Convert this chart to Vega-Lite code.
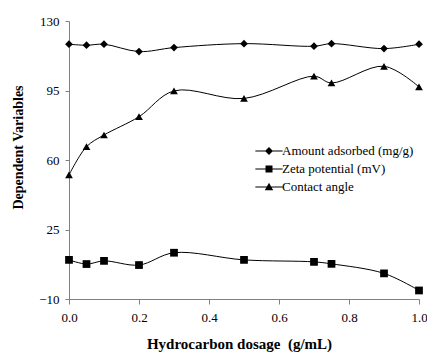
{
  "$schema": "https://vega.github.io/schema/vega-lite/v6.json",
  "width": 350,
  "height": 278,
  "autosize": {"type": "none"},
  "padding": {"left": 69, "top": 21, "right": 8, "bottom": 53},
  "background": "white",
  "config": {
    "view": {"stroke": null},
    "font": "Liberation Serif",
    "axis": {
      "domainColor": "#808080",
      "tickColor": "#808080",
      "labelColor": "black",
      "titleColor": "black",
      "labelFont": "Liberation Serif",
      "titleFont": "Liberation Serif",
      "labelFontSize": 13,
      "titleFontSize": 14,
      "titleFontWeight": "bold",
      "grid": false
    }
  },
  "data": {
    "values": [
      {"x": 0.0, "series": "Amount adsorbed (mg/g)", "v": 118.3},
      {"x": 0.05, "series": "Amount adsorbed (mg/g)", "v": 117.8},
      {"x": 0.1, "series": "Amount adsorbed (mg/g)", "v": 118.3},
      {"x": 0.2, "series": "Amount adsorbed (mg/g)", "v": 114.6},
      {"x": 0.3, "series": "Amount adsorbed (mg/g)", "v": 116.6},
      {"x": 0.5, "series": "Amount adsorbed (mg/g)", "v": 118.6},
      {"x": 0.7, "series": "Amount adsorbed (mg/g)", "v": 117.3},
      {"x": 0.75, "series": "Amount adsorbed (mg/g)", "v": 118.6},
      {"x": 0.9, "series": "Amount adsorbed (mg/g)", "v": 116.1},
      {"x": 1.0, "series": "Amount adsorbed (mg/g)", "v": 118.3},
      {"x": 0.0, "series": "Zeta potential (mV)", "v": 9.7},
      {"x": 0.05, "series": "Zeta potential (mV)", "v": 7.6},
      {"x": 0.1, "series": "Zeta potential (mV)", "v": 9.2},
      {"x": 0.2, "series": "Zeta potential (mV)", "v": 7.1},
      {"x": 0.3, "series": "Zeta potential (mV)", "v": 13.3},
      {"x": 0.5, "series": "Zeta potential (mV)", "v": 9.7},
      {"x": 0.7, "series": "Zeta potential (mV)", "v": 8.7},
      {"x": 0.75, "series": "Zeta potential (mV)", "v": 7.7},
      {"x": 0.9, "series": "Zeta potential (mV)", "v": 2.9},
      {"x": 1.0, "series": "Zeta potential (mV)", "v": -5.7},
      {"x": 0.0, "series": "Contact angle", "v": 52.5},
      {"x": 0.05, "series": "Contact angle", "v": 66.7},
      {"x": 0.1, "series": "Contact angle", "v": 72.6},
      {"x": 0.2, "series": "Contact angle", "v": 81.8},
      {"x": 0.3, "series": "Contact angle", "v": 94.8},
      {"x": 0.5, "series": "Contact angle", "v": 91.0},
      {"x": 0.7, "series": "Contact angle", "v": 102.2},
      {"x": 0.75, "series": "Contact angle", "v": 98.8},
      {"x": 0.9, "series": "Contact angle", "v": 107.2},
      {"x": 1.0, "series": "Contact angle", "v": 96.8}
    ]
  },
  "encoding": {
    "x": {
      "field": "x", "type": "quantitative",
      "scale": {"domain": [0, 1], "nice": false, "zero": false},
      "axis": {
        "title": "Hydrocarbon dosage\u00a0 (g/mL)",
        "titleFontSize": 15,
        "values": [0, 0.2, 0.4, 0.6, 0.8, 1.0],
        "format": ".1f",
        "tickSize": 5,
        "labelPadding": 7,
        "titleX": 170,
        "titleY": 44,
        "titleBaseline": "middle",
        "labelFlush": false
      }
    },
    "y": {
      "field": "v", "type": "quantitative",
      "scale": {"domain": [-10, 130], "nice": false, "zero": false},
      "axis": {
        "title": "Dependent Variables",
        "values": [-10, 25, 60, 95, 130],
        "tickSize": 4,
        "labelPadding": 6,
        "titleX": -51,
        "titleY": 126,
        "titleBaseline": "middle",
        "labelFlush": false
      }
    }
  },
  "layer": [
    {
      "mark": {"type": "line", "interpolate": "catmull-rom", "color": "black", "strokeWidth": 1},
      "encoding": {"detail": {"field": "series"}}
    },
    {
      "mark": {"type": "point", "filled": true, "opacity": 1, "color": "black", "size": 60},
      "encoding": {
        "shape": {
          "field": "series", "type": "nominal",
          "scale": {
            "domain": ["Amount adsorbed (mg/g)", "Zeta potential (mV)", "Contact angle"],
            "range": ["diamond", "square", "triangle-up"]
          },
          "legend": null
        }
      }
    },
    {
      "mark": {"type": "point", "filled": true, "opacity": 0, "color": "black", "size": 1},
      "encoding": {
        "shape": {
          "field": "series", "type": "nominal",
          "scale": {
            "domain": ["Amount adsorbed (mg/g)", "Zeta potential (mV)", "Contact angle"],
            "range": [
              "M-1.95,-0.07H1.95V0.07H-1.95ZM0,-0.57L0.57,0L0,0.57L-0.57,0Z",
              "M-1.95,-0.07H1.95V0.07H-1.95ZM-0.5,-0.5H0.5V0.5H-0.5Z",
              "M-1.95,-0.07H1.95V0.07H-1.95ZM0,-0.6L0.6,0.45L-0.6,0.45Z"
            ]
          },
          "legend": {
            "title": null,
            "orient": "none",
            "legendX": 193,
            "legendY": 123,
            "symbolSize": 196,
            "symbolOpacity": 1,
            "symbolFillColor": "black",
            "symbolStrokeColor": "black",
            "symbolStrokeWidth": 0,
            "rowPadding": 4,
            "labelOffset": 6,
            "labelFont": "Liberation Serif",
            "labelFontSize": 13,
            "labelColor": "black",
            "labelLimit": 300
          }
        }
      }
    }
  ],
  "resolve": {"scale": {"shape": "independent"}}
}
